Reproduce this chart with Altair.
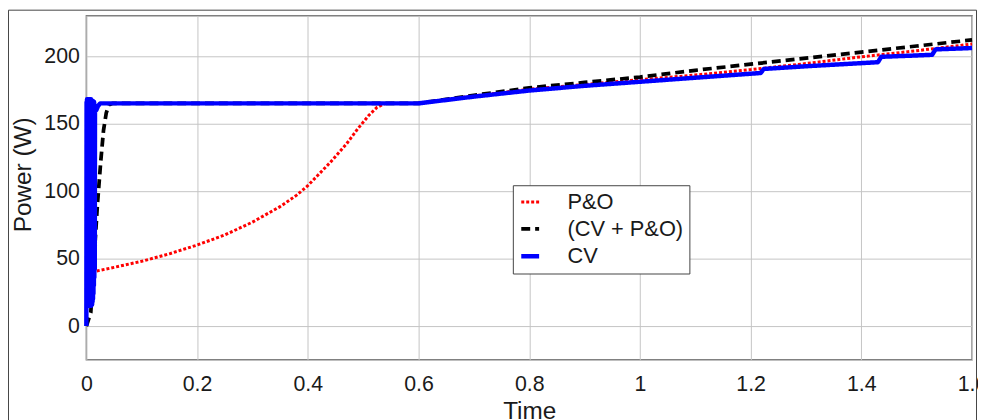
import altair as alt
import pandas as pd

# ---- data ----
SERIES = ["P&O", "(CV + P&O)", "CV"]
COLORS = ["#ff0000", "#000000", "#0000ff"]
DASHES = [[3, 2], [9, 5], [1, 0]]
WIDTHS = [3, 4.5, 5.5]

T_PO = [0.01, 0.05, 0.1, 0.15, 0.2, 0.25, 0.3, 0.35, 0.38, 0.4, 0.44, 0.47, 0.49, 0.51,
        0.525, 0.54, 0.6, 0.7, 0.8, 0.9, 1.0, 1.1, 1.2, 1.3, 1.4, 1.5, 1.6]
P_PO = [40, 43.5, 48, 53.5, 60, 67.5, 77, 88.5, 97, 104, 121, 135, 146, 156,
        162, 165, 165, 170.5, 175.5, 179, 182.5, 186, 190, 194.5, 199.5, 204, 209]

T_CVPO = [0, 0.008, 0.014, 0.02, 0.026, 0.031, 0.036, 0.041, 0.048, 0.6, 0.7, 0.8, 0.9,
          1.0, 1.1, 1.2, 1.3, 1.4, 1.5, 1.6]
P_CVPO = [0, 10, 50, 90, 122, 145, 158, 164, 165, 165, 171, 176.5, 180.5,
          184.5, 189.5, 194, 198.5, 203, 207.5, 212]

# CV: noisy start-up band (0 .. 0.016 s), then flat, then rising with small steps
T_CV = [0, 0.0004, 0.0008, 0.0012, 0.0016, 0.002, 0.0024, 0.0028, 0.0032, 0.0036, 0.004,
        0.0044, 0.0048, 0.0052, 0.0056, 0.006, 0.0064, 0.0068, 0.0072, 0.0076, 0.008,
        0.0084, 0.0088, 0.0092, 0.0096, 0.01, 0.0104, 0.0108, 0.0112, 0.0116, 0.012,
        0.0124, 0.0128, 0.0132, 0.0136, 0.014, 0.0144, 0.0148, 0.0152, 0.0156, 0.016,
        0.018, 0.021, 0.025, 0.6, 0.7, 0.8,
        0.9, 1.0, 1.1, 1.218, 1.224, 1.3, 1.43, 1.436, 1.5, 1.528, 1.534, 1.6]
P_CV = [0, 166, 15, 168, 16, 167, 15, 166, 17, 168, 15,
        167, 16, 166, 15, 168, 17, 166, 15, 167, 16,
        168, 15, 166, 17, 167, 16, 166, 18, 167, 20,
        166, 24, 165, 30, 166, 36, 164, 42, 163, 160,
        160, 163, 165, 165, 170, 174.5,
        178, 181, 184, 187.5, 190.5, 192.5, 195.5, 199.5, 200.5, 201, 205, 206]

X_TICKS = [0, 0.2, 0.4, 0.6, 0.8, 1.0, 1.2, 1.4, 1.6]
Y_TICKS = [0, 50, 100, 150, 200]

rows = []
for name, ts, ps in [(SERIES[0], T_PO, P_PO), (SERIES[1], T_CVPO, P_CVPO), (SERIES[2], T_CV, P_CV)]:
    for t, p in zip(ts, ps):
        rows.append({"t": t, "p": p, "series": name})
df = pd.DataFrame(rows)

FONT = "Liberation Sans"

legend = alt.Legend(
    orient="none", legendX=430, legendY=171, symbolType="stroke", symbolSize=324,
    symbolStrokeWidth=4, labelFontSize=22, labelFont=FONT, labelColor="#1a1a1a",
    padding=6, rowPadding=5, labelOffset=26, fillColor="white", strokeColor="#444444",
    cornerRadius=0,
)

x_enc = alt.X("t:Q", scale=alt.Scale(domain=[0, 1.6], nice=False, zero=False),
              axis=alt.Axis(values=X_TICKS, format="~g", title="Time", grid=True,
                            ticks=False, domain=False, labelPadding=14,
                            labelFontSize=21.5, titleFontSize=24.5, titleY=40,
                            titleBaseline="top", titleFontWeight="normal",
                            labelFlush=False, labelOverlap=False))
y_enc = alt.Y("p:Q", scale=alt.Scale(domain=[-25, 230], nice=False, zero=False),
              axis=alt.Axis(values=Y_TICKS, title="Power (W)", grid=True, ticks=False,
                            domain=False, labelPadding=7, labelFontSize=21.5,
                            titleFontSize=24.5, titleX=-63, titleY=160,
                            titleBaseline="middle", titleFontWeight="normal"))

color = alt.Color("series:N", scale=alt.Scale(domain=SERIES, range=COLORS), title=None, legend=legend)
dash = alt.StrokeDash("series:N", scale=alt.Scale(domain=SERIES, range=DASHES), title=None, legend=legend)
width = alt.StrokeWidth("series:N", scale=alt.Scale(domain=SERIES, range=WIDTHS), title=None, legend=legend)

base = alt.Chart(df)
layers = []
for s in SERIES:
    layers.append(
        base.transform_filter(alt.datum.series == s)
        .mark_line(strokeJoin="round", strokeCap="butt")
        .encode(x=x_enc, y=y_enc, color=color, strokeDash=dash, strokeWidth=width)
    )

frame = alt.Chart(pd.DataFrame({"a": [0]})).mark_rect(
    filled=False, stroke="#444444", strokeWidth=1, clip=False
).encode(x=alt.value(-78.5), x2=alt.value(897.5), y=alt.value(-5.5), y2=alt.value(420))

chart = alt.layer(*layers, frame).properties(
    width=893, height=347,
    autosize=alt.AutoSizeParams(type="none"),
    padding={"left": 79, "top": 6, "right": 6, "bottom": 59},
    background="white",
).configure_view(stroke="#808080", strokeWidth=1.5).configure_axis(
    labelFont=FONT, titleFont=FONT, labelColor="#1a1a1a", titleColor="#1a1a1a",
    gridColor="#c4c4c4", gridWidth=1,
)

chart.save("out.html", embed_options={"renderer": "svg", "actions": False})
